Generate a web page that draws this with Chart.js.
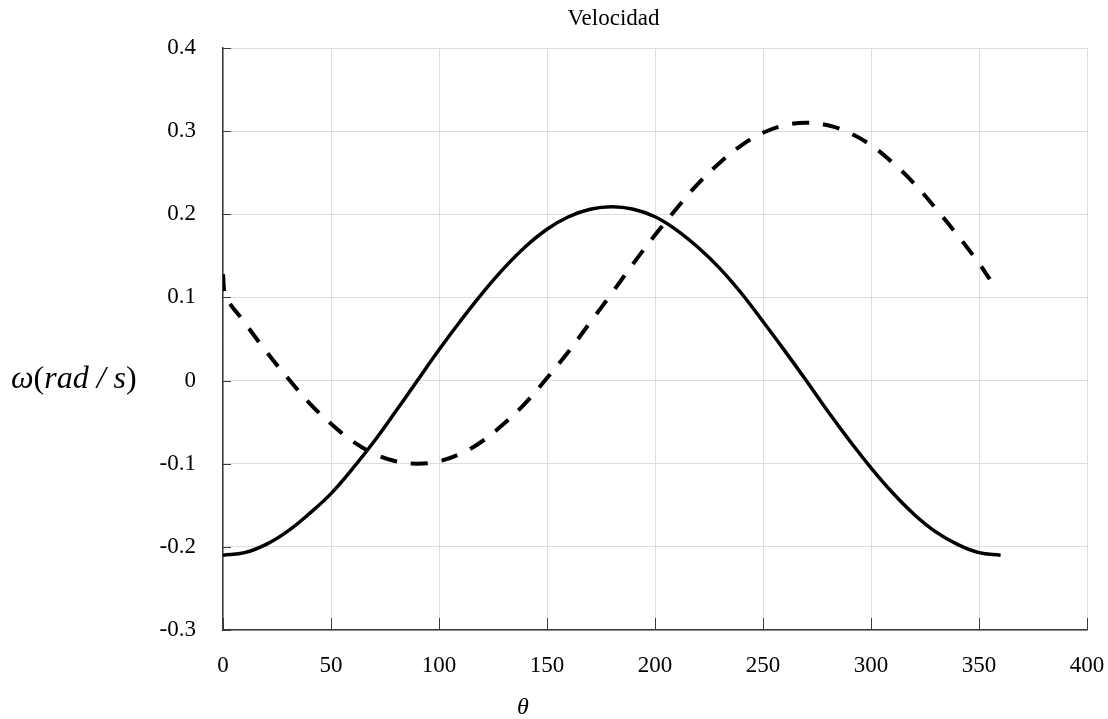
<!DOCTYPE html>
<html>
<head>
<meta charset="utf-8">
<script src="https://cdn.jsdelivr.net/npm/chart.js@4.4.1/dist/chart.umd.min.js"></script>
<style>
html,body{margin:0;padding:0;background:#fff;}
#wrap{width:1108px;height:719px;position:relative;}
</style>
</head>
<body>
<div id="wrap"><canvas id="c"></canvas></div>
<script>
// ---- data ----
const thetaSolid = [0,10,20,30,40,50,60,70,80,90,100,110,120,130,140,150,160,170,180,
                    190,200,210,220,230,240,250,260,270,280,290,300,310,320,330,340,350,360];
const omegaSolid = [-0.210,-0.207,-0.197,-0.181,-0.160,-0.136,-0.106,-0.073,-0.037,0.000,
                    0.037,0.072,0.105,0.135,0.161,0.182,0.197,0.206,0.209,
                    0.206,0.197,0.181,0.160,0.135,0.105,0.071,0.036,0.000,-0.037,
                    -0.072,-0.105,-0.135,-0.161,-0.182,-0.197,-0.207,-0.210];

const thetaDashed = [0,1,10,20,30,40,50,60,70,80,90,100,110,120,130,140,150,160,170,180,
                     190,200,210,220,230,240,250,260,270,280,290,300,310,320,330,340,350,355];
const omegaDashed = [0.128,0.103,0.070,0.035,0.003,-0.027,-0.052,-0.073,-0.088,-0.097,-0.100,
                     -0.097,-0.088,-0.073,-0.052,-0.027,0.003,0.035,0.070,0.105,
                     0.141,0.175,0.207,0.237,0.262,0.283,0.298,0.307,0.310,0.307,
                     0.298,0.283,0.262,0.237,0.207,0.175,0.141,0.122];

const xTicks = [0,50,100,150,200,250,300,350,400];
const xTickLabels = ['0','50','100','150','200','250','300','350','400'];
const yTicks = [-0.3,-0.2,-0.1,0,0.1,0.2,0.3,0.4];
const yTickLabels = ['-0.3','-0.2','-0.1','0','0.1','0.2','0.3','0.4'];

const chartTitle = 'Velocidad';
const xTitle = 'θ';
const yTitleParts = [['ω','italic'],['(','normal'],['rad / s','italic'],[')','normal']];
// ----------------------------------------------

const SERIF = '"Liberation Serif","Times New Roman",serif';

function pts(xs, ys){ return xs.map((x,i)=>({x:x, y:ys[i]})); }

const decorPlugin = {
  id: 'decor',
  afterDraw(chart){
    const ctx = chart.ctx, xs = chart.scales.x, ys = chart.scales.y, ca = chart.chartArea;
    ctx.save();
    // inward tick marks
    ctx.strokeStyle = '#3a3a3a';
    ctx.lineWidth = 1;
    xs.ticks.forEach(t=>{
      const px = Math.round(xs.getPixelForValue(t.value)) + 0.5;
      ctx.beginPath(); ctx.moveTo(px, ca.bottom); ctx.lineTo(px, ca.bottom - 12); ctx.stroke();
    });
    ys.ticks.forEach(t=>{
      const py = Math.round(ys.getPixelForValue(t.value)) + 0.5;
      ctx.beginPath(); ctx.moveTo(ca.left, py); ctx.lineTo(ca.left + 8, py); ctx.stroke();
    });
    // title
    ctx.fillStyle = '#000';
    ctx.textBaseline = 'alphabetic';
    ctx.textAlign = 'center';
    ctx.font = '23px ' + SERIF;
    ctx.fillText(chartTitle, ca.left + (ca.right - ca.left) * 0.452, 25);
    // x title
    ctx.font = 'italic 24px ' + SERIF;
    ctx.fillText(xTitle, ca.left + (ca.right - ca.left) * 0.347, 714);
    // y title (horizontal, aligned with zero)
    ctx.textAlign = 'left';
    let x = 11;
    const base = ys.getPixelForValue(0) + 7;
    yTitleParts.forEach(([txt, style])=>{
      ctx.font = (style === 'italic' ? 'italic ' : '') + '32px ' + SERIF;
      ctx.fillText(txt, x, base);
      x += ctx.measureText(txt).width;
    });
    ctx.restore();
  }
};

new Chart(document.getElementById('c'), {
  type: 'line',
  data: {
    datasets: [
      {
        data: pts(thetaSolid, omegaSolid),
        borderColor: '#000',
        borderWidth: 3.5,
        pointRadius: 0,
        fill: false,
        tension: 0.4
      },
      {
        data: pts(thetaDashed, omegaDashed),
        borderColor: '#000',
        borderWidth: 4,
        borderDash: [17, 14],
        pointRadius: 0,
        fill: false,
        tension: 0.4
      }
    ]
  },
  options: {
    responsive: true,
    maintainAspectRatio: false,
    animation: false,
    layout: { padding: { left: 0, top: 48, right: 0, bottom: 0 } },
    plugins: { legend: { display: false }, title: { display: false }, tooltip: { enabled: false } },
    scales: {
      x: {
        type: 'linear',
        min: 0, max: 400,
        afterBuildTicks: s => { s.ticks = xTicks.map(v => ({ value: v })); },
        afterFit: s => { s.height = 89; s.paddingLeft = 0; s.paddingRight = 21; },
        ticks: {
          callback: (v, i) => xTickLabels[i],
          font: { family: SERIF, size: 23 },
          color: '#000',
          padding: 22,
          maxRotation: 0
        },
        grid: { color: '#dedede', lineWidth: 1, drawTicks: false },
        border: { display: true, color: '#3a3a3a', width: 1.5 }
      },
      y: {
        type: 'linear',
        min: -0.3, max: 0.4,
        afterBuildTicks: s => { s.ticks = yTicks.map(v => ({ value: v })); },
        afterFit: s => { s.width = 223; s.paddingTop = 0; s.paddingBottom = 0; },
        ticks: {
          callback: (v, i) => yTickLabels[i],
          font: { family: SERIF, size: 23 },
          color: '#000',
          padding: 27
        },
        grid: { color: '#dedede', lineWidth: 1, drawTicks: false },
        border: { display: true, color: '#3a3a3a', width: 1.5 }
      }
    }
  },
  plugins: [decorPlugin]
});
</script>
</body>
</html>
